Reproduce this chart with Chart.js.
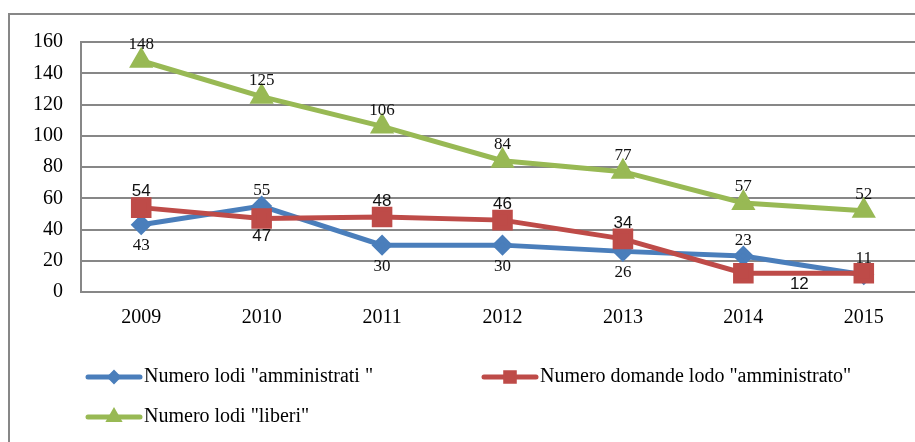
<!DOCTYPE html>
<html>
<head>
<meta charset="utf-8">
<script src="https://cdn.jsdelivr.net/npm/chart.js@4"></script>
<style>
  html, body { margin: 0; padding: 0; background: #fff; overflow: hidden; width: 915px; height: 442px; }
  #frame { position: absolute; left: 8px; top: 13px; width: 1000px; height: 1000px; border: 2px solid #878787; }
  #wrap { position: absolute; left: 0; top: 0; width: 935px; height: 442px; }
</style>
</head>
<body>
<div id="frame"></div>
<div id="wrap"><canvas id="myChart" width="935" height="442"></canvas></div>
<script>
const years = ["2009", "2010", "2011", "2012", "2013", "2014", "2015"];
const lodiAmministrati = [43, 55, 30, 30, 26, 23, 11];
const domandeAmministrato = [54, 47, 48, 46, 34, 12, 12];
const lodiLiberi = [148, 125, 106, 84, 77, 57, 52];

// where each value label sits (null = no label)
const labelsAmministrati = ["below", "above", "below", "below", "below", "above", "above"];
const labelsDomande = ["above", "below", "above", "above", "above", "right", null];
const labelsLiberi = ["above", "above", "above", "above", "above", "above", "above"];

const serif = "'Liberation Serif', 'DejaVu Serif', serif";
const sans = "'Liberation Sans', Arial, sans-serif";

const valueLabels = {
  id: "valueLabels",
  afterDatasetsDraw(chart) {
    const ctx = chart.ctx;
    ctx.save();
    ctx.textAlign = "center";
    ctx.textBaseline = "middle";
    chart.data.datasets.forEach((ds, i) => {
      const meta = chart.getDatasetMeta(i);
      ctx.font = ds.labelFont;
      ctx.fillStyle = "#111";
      meta.data.forEach((pt, j) => {
        const pos = ds.labelPos[j];
        if (!pos) return;
        let x = pt.x, y = pt.y;
        if (pos === "above") y -= 16;
        else if (pos === "below") y += ds.belowGap;
        else if (pos === "right") { x += 56; y += 11; }
        ctx.fillText(String(ds.data[j]), x, y);
      });
    });
    ctx.restore();
  }
};

const legendBox = {
  id: "legendBox",
  afterDraw(chart) {
    const ctx = chart.ctx;
    const slots = [[86, 377], [482, 377], [86, 417]];
    ctx.save();
    chart.data.datasets.forEach((ds, i) => {
      const [x, y] = slots[i];
      ctx.strokeStyle = ds.borderColor;
      ctx.lineWidth = 5;
      ctx.lineCap = "round";
      ctx.beginPath();
      ctx.moveTo(x + 2, y);
      ctx.lineTo(x + 54, y);
      ctx.stroke();
      Chart.helpers.drawPoint(ctx, {
        pointStyle: ds.pointStyle,
        radius: ds.pointRadius * 0.55,
        borderWidth: 1
      }, x + 28, y);
      ctx.fillStyle = ds.borderColor;
      ctx.fill();
      ctx.fillStyle = "#000";
      ctx.font = "20px " + serif;
      ctx.textAlign = "left";
      ctx.textBaseline = "middle";
      ctx.fillText(ds.label, x + 58, y);
    });
    ctx.restore();
  }
};

function series(label, data, color, style, radius, pos, font, belowGap, order) {
  return {
    label: label,
    data: data,
    borderColor: color,
    backgroundColor: color,
    pointBackgroundColor: color,
    pointBorderColor: color,
    pointStyle: style,
    pointRadius: radius,
    pointHoverRadius: radius,
    borderWidth: 5,
    tension: 0,
    labelPos: pos,
    labelFont: font,
    belowGap: belowGap,
    order: order
  };
}

const chart = new Chart(document.getElementById("myChart").getContext("2d"), {
  type: "line",
  data: {
    labels: years,
    datasets: [
      series('Numero lodi "amministrati "', lodiAmministrati, "#4a7ebb", "rectRot", 7, labelsAmministrati, "17px " + serif, 21, 2),
      series('Numero domande lodo "amministrato"', domandeAmministrato, "#be4b48", "rect", 11, labelsDomande, "17px " + sans, 18, 1),
      series('Numero lodi "liberi"', lodiLiberi, "#98b954", "triangle", 9, labelsLiberi, "17px " + serif, 20, 0)
    ]
  },
  options: {
    responsive: false,
    animation: false,
    layout: { autoPadding: false, padding: { top: 42, right: 11, left: 0, bottom: 0 } },
    plugins: {
      legend: { display: false },
      tooltip: { enabled: false }
    },
    scales: {
      x: {
        offset: true,
        grid: { display: false, drawTicks: false },
        border: { display: true, color: "#878787", width: 2 },
        ticks: { color: "#000", font: { family: serif, size: 20 }, padding: 14 },
        afterFit: (scale) => { scale.height = 150; }
      },
      y: {
        min: 0,
        max: 160,
        grid: { color: "#878787", lineWidth: 2, drawTicks: false },
        border: { display: true, color: "#878787", width: 2 },
        ticks: { stepSize: 20, color: "#000", font: { family: serif, size: 20 }, padding: 18 },
        afterFit: (scale) => { scale.width = 81; }
      }
    }
  },
  plugins: [valueLabels, legendBox]
});
</script>
</body>
</html>
